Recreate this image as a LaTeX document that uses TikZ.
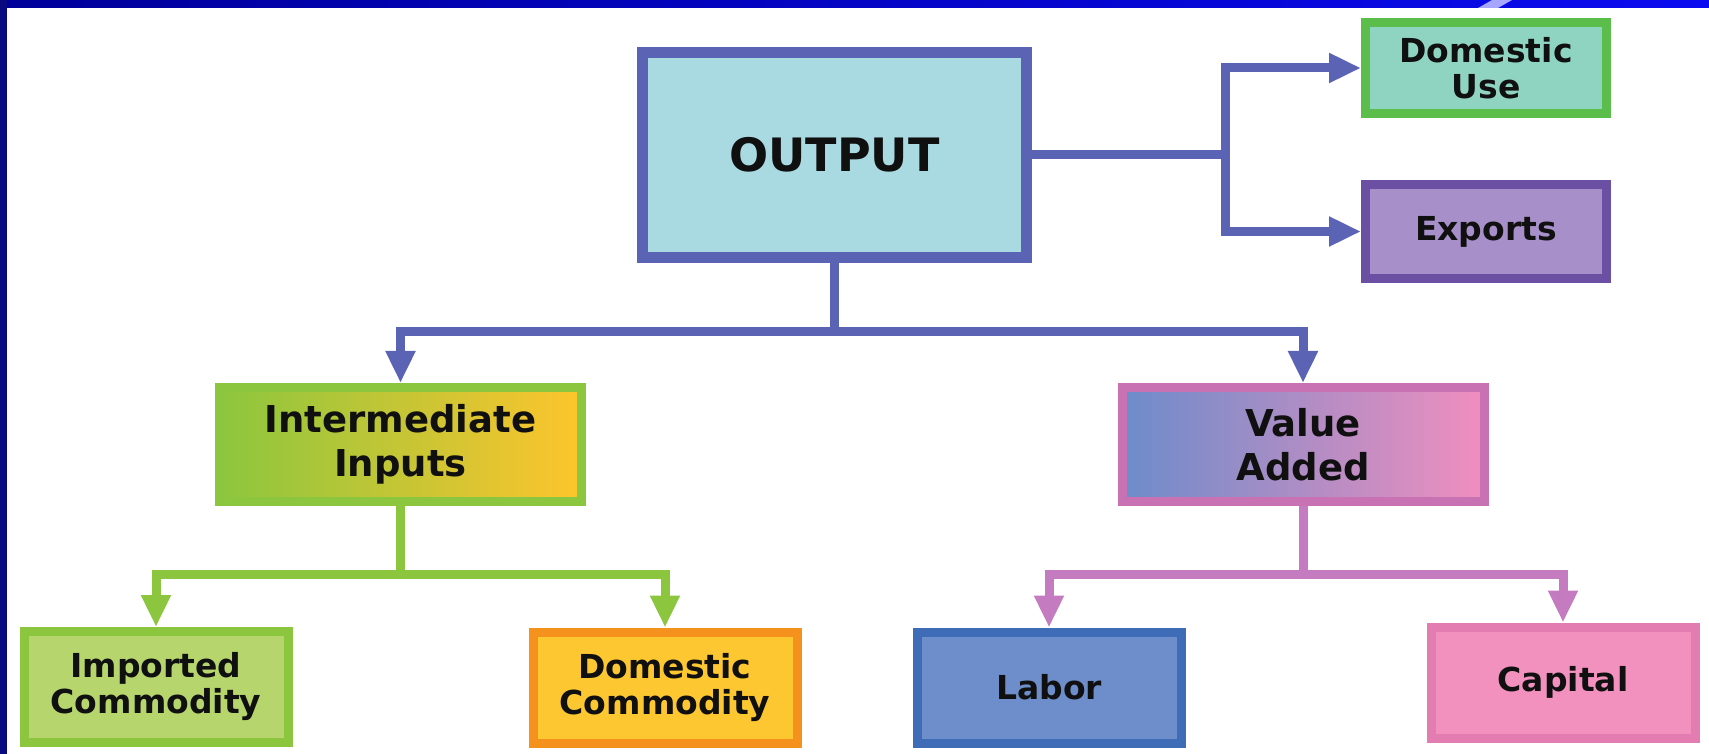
\documentclass[tikz,border=0pt]{standalone}
\usepackage{fontspec}
\setmainfont{DejaVu Sans}
\usetikzlibrary{arrows.meta}
\definecolor{outblue}{HTML}{5B63B5}
\definecolor{outfill}{HTML}{A9DAE1}
\definecolor{domfill}{HTML}{8FD4C1}
\definecolor{domdraw}{HTML}{5BBE4B}
\definecolor{expfill}{HTML}{A78FC9}
\definecolor{expdraw}{HTML}{6B4FA3}
\definecolor{grn}{HTML}{8CC63E}
\definecolor{grnmid}{HTML}{C9DC38}
\definecolor{amber}{HTML}{FEC52C}
\definecolor{vadraw}{HTML}{C872B3}
\definecolor{vablue}{HTML}{6C8CCB}
\definecolor{vamid}{HTML}{AE8DCB}
\definecolor{vapink}{HTML}{F18EBE}
\definecolor{pinkline}{HTML}{C57BBF}
\definecolor{impfill}{HTML}{B6D56C}
\definecolor{dcomfill}{HTML}{FDC731}
\definecolor{dcomdraw}{HTML}{F5921E}
\definecolor{labfill}{HTML}{6D8ECB}
\definecolor{labdraw}{HTML}{3F6CB6}
\definecolor{capfill}{HTML}{F291BD}
\definecolor{capdraw}{HTML}{E27CB1}
\definecolor{framedark}{HTML}{00009A}
\definecolor{framelight}{HTML}{0A0AF0}
\definecolor{framenavy}{HTML}{0A0A80}
\definecolor{ink}{HTML}{101010}

\begin{document}
\begin{tikzpicture}[
x=0.5pt, y=-0.5pt,
>={Triangle[length=16pt,width=14pt]},
box/.style={rectangle, draw, line width=4.5pt, align=center, inner sep=0pt, text=ink,
  font=\fontsize{16.5}{18}\selectfont\bfseries},
bigbox/.style={box, font=\fontsize{18.5}{22}\selectfont\bfseries,
  minimum width=181pt, minimum height=57pt},
smallbox/.style={box, minimum width=132pt, minimum height=55.5pt},
link/.style={line width=4.5pt}]
% page and frame
\fill[white] (0,0) rectangle (1709,754);
\useasboundingbox (0,0) rectangle (1709,754);
\shade[left color=framedark, right color=framelight] (0,0) rectangle (1709,8);
\fill[blue!35!white] (1478,8) -- (1492,0) -- (1512,0) -- (1498,8) -- cycle;
\fill[framenavy] (0,0) rectangle (7,754);
% boxes
\node [box, draw=outblue, fill=outfill, line width=5.5pt, font=\fontsize{23}{26}\selectfont\bfseries,
  minimum width=192pt, minimum height=102.5pt] (out) at (834.5,155) {OUTPUT};
\node [box, draw=domdraw, fill=domfill, minimum width=120.5pt, minimum height=45.5pt] (dom) at (1486,68) {Domestic\\Use};
\node [box, draw=expdraw, fill=expfill, minimum width=120.5pt, minimum height=47pt] (exp) at (1486,231.5) {Exports};
\node [bigbox, draw=grn, left color=grn, middle color=grnmid, right color=amber] (inter) at (400.5,444.5) {Intermediate\\Inputs};
\node [bigbox, draw=vadraw, left color=vablue, middle color=vamid, right color=vapink] (va) at (1303,444.5) {Value\\Added};
\node [smallbox, draw=grn, fill=impfill] (imp) at (156,687) {Imported\\Commodity};
\node [smallbox, draw=dcomdraw, fill=dcomfill] (dcom) at (665,687.5) {Domestic\\Commodity};
\node [smallbox, draw=labdraw, fill=labfill] (lab) at (1049,687.5) {Labor};
\node [smallbox, draw=capdraw, fill=capfill] (cap) at (1563,682.5) {Capital};
% branch points
\coordinate (split) at (1225,155);
\coordinate (hub) at (834.5,332);
\coordinate (gsplit) at (400.5,574);
\coordinate (psplit) at (1303,574);
% connectors
\draw [link, outblue] (out) -- (split);
\draw [link, outblue, ->] (split) |- (dom);
\draw [link, outblue, ->] (split) |- (exp);
\draw [link, outblue] (out) -- (hub);
\draw [link, outblue, ->] (hub) -| (inter);
\draw [link, outblue, ->] (hub) -| (va);
\draw [link, grn] (inter) -- (gsplit);
\draw [link, grn, ->] (gsplit) -| (imp);
\draw [link, grn, ->] (gsplit) -| (dcom);
\draw [link, pinkline] (va) -- (psplit);
\draw [link, pinkline, ->] (psplit) -| (lab);
\draw [link, pinkline, ->] (psplit) -| (cap);
\end{tikzpicture}
\end{document}
